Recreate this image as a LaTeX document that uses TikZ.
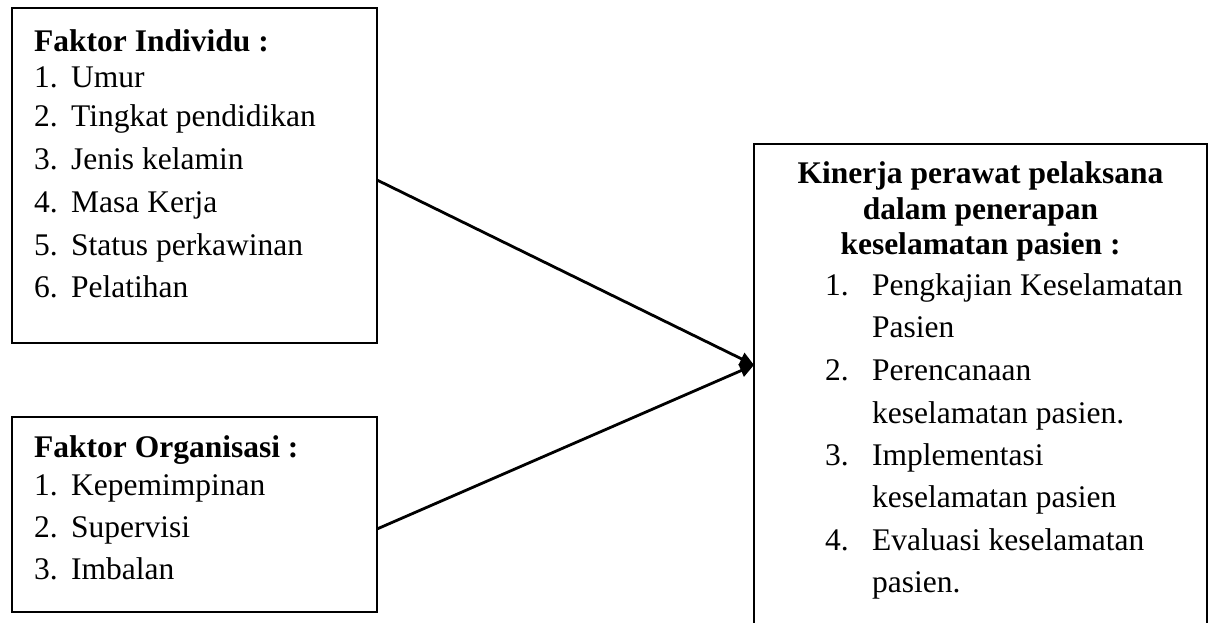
\documentclass[tikz,border=0pt]{standalone}
\usepackage{fontspec}
\setmainfont{Liberation Serif}
\usetikzlibrary{arrows.meta}
\begin{document}
\begin{tikzpicture}[x=1pt,y=-1pt,
  panel/.style={draw=black, line width=1.8pt, anchor=north west, inner sep=0pt, outer sep=0pt},
  txt/.style={anchor=base west, inner sep=0pt, font=\fontsize{31.5}{42}\selectfont},
  headline/.style={anchor=base west, inner sep=0pt, font=\fontsize{31.5}{42}\selectfont\bfseries},
  headmid/.style={anchor=base, inner sep=0pt, font=\fontsize{31.5}{42}\selectfont\bfseries},
  link/.style={line width=2.8pt, -{Triangle[length=14pt,width=13pt]}}]
\clip (0,0) rectangle (1216,623);

% boxes
\node[panel, minimum width=365pt, minimum height=335pt] (ind) at (12,8) {};
\node[panel, minimum width=365pt, minimum height=195pt] (org) at (12,417) {};
\node[panel, minimum width=453pt, minimum height=520pt] (kin) at (754,144) {};

% individual factors
\node[headline] (ind-t) at (34,52) {Faktor Individu :};
\foreach \n/\y/\s in {1/88/Umur, 2/127/Tingkat pendidikan, 3/170/Jenis kelamin,
                      4/212.5/Masa Kerja, 5/255/Status perkawinan, 6/297/Pelatihan} {
  \node[txt] (ind-n\n) at (34,\y) {\n.};
  \node[txt] (ind-i\n) at (71,\y) {\s};
}

% organisational factors
\node[headline] (org-t) at (34,457) {Faktor Organisasi :};
\foreach \n/\y/\s in {1/495/Kepemimpinan, 2/537/Supervisi, 3/579/Imbalan} {
  \node[txt] (org-n\n) at (34,\y) {\n.};
  \node[txt] (org-i\n) at (71,\y) {\s};
}

% nurse performance
\node[headmid] (kin-t1) at (980.5,184) {Kinerja perawat pelaksana};
\node[headmid] (kin-t2) at (980.5,219) {dalam penerapan};
\node[headmid] (kin-t3) at (980.5,254) {keselamatan pasien :};
\foreach \n/\y in {1/295, 2/380, 3/465, 4/550}
  \node[txt] (kin-n\n) at (825,\y) {\n.};
\foreach \k/\y/\s in {a/295/Pengkajian Keselamatan, b/337/Pasien,
                      c/380/Perencanaan, d/423/keselamatan pasien.,
                      e/465/Implementasi, f/507/keselamatan pasien,
                      g/550/Evaluasi keselamatan, h/592/pasien.}
  \node[txt] (kin-\k) at (872,\y) {\s};

% connectors
\path (kin.north west) ++(0,221) coordinate (meet);
\draw[link] ([yshift=-4.5pt]ind.east) -- (meet);
\draw[link] ([yshift=-14.5pt]org.east) -- (meet);
\end{tikzpicture}
\end{document}
